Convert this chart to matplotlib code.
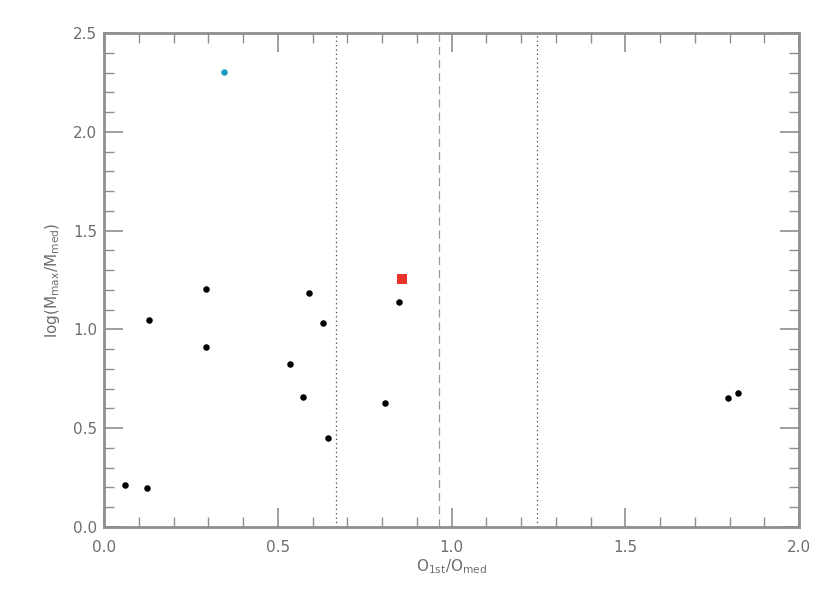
import matplotlib
matplotlib.use("Agg")
import matplotlib.pyplot as plt
from matplotlib.ticker import MultipleLocator

# Data
black_x = [0.060, 0.125, 0.129, 0.294, 0.294, 0.534, 0.573, 0.589, 0.630, 0.644, 0.808, 0.849, 1.797, 1.825]
black_y = [0.214, 0.199, 1.048, 1.203, 0.913, 0.825, 0.658, 1.184, 1.032, 0.449, 0.626, 1.139, 0.654, 0.677]
cyan_x = [0.346]
cyan_y = [2.301]
red_x = [0.857]
red_y = [1.255]
dotted_lines = [0.667, 1.245]
dashed_lines = [0.964]
x_ticks = [0.0, 0.5, 1.0, 1.5, 2.0]
y_ticks = [0.0, 0.5, 1.0, 1.5, 2.0, 2.5]

gray = "#8f8f8f"
txt = "#6e6e6e"
plt.rcParams['font.family'] = ['DejaVu Sans']
plt.rcParams['mathtext.fontset'] = 'dejavusans'

fig = plt.figure(figsize=(8.3, 5.93), dpi=100)
ax = fig.add_axes([104/830, 1-527/593, 695/830, 494/593])

for xv in dotted_lines:
    ax.axvline(xv, color="#444444", linestyle=(0, (1, 2.5)), linewidth=0.9, zorder=1)
for xv in dashed_lines:
    ax.axvline(xv, color="#999999", linestyle=(0, (6.5, 4)), linewidth=0.9, zorder=1)

ax.scatter(black_x, black_y, s=22, color="black", marker="o", zorder=3, linewidths=0)
ax.scatter(cyan_x, cyan_y, s=22, color="#1a9cc0", marker="o", zorder=3, linewidths=0)
ax.scatter(red_x, red_y, s=45, color="#e8322a", marker="s", zorder=3, linewidths=0)

ax.set_xlim(0, 2.0)
ax.set_ylim(0, 2.5)
ax.set_xticks(x_ticks)
ax.set_yticks(y_ticks)
ax.set_xticklabels([f"{v:.1f}" for v in x_ticks])
ax.set_yticklabels([f"{v:.1f}" for v in y_ticks])
ax.xaxis.set_minor_locator(MultipleLocator(0.1))
ax.yaxis.set_minor_locator(MultipleLocator(0.1))
ax.tick_params(which='both', direction='in', top=True, right=True, color=gray, labelcolor=txt, labelsize=11)
ax.tick_params(which='major', length=14, width=1.2)
ax.tick_params(axis='y', which='major', pad=5)
ax.tick_params(axis='x', which='major', pad=9)
ax.tick_params(which='minor', length=7, width=1.0)
for sp in ax.spines.values():
    sp.set_color(gray)
    sp.set_linewidth(2)

ax.set_xlabel(r"O$_{\mathrm{1st}}$/O$_{\mathrm{med}}$", color=txt, fontsize=11, labelpad=2)
ax.set_ylabel(r"log(M$_{\mathrm{max}}$/M$_{\mathrm{med}}$)", color=txt, fontsize=11, labelpad=8)

fig.savefig("out.png", dpi=100)
